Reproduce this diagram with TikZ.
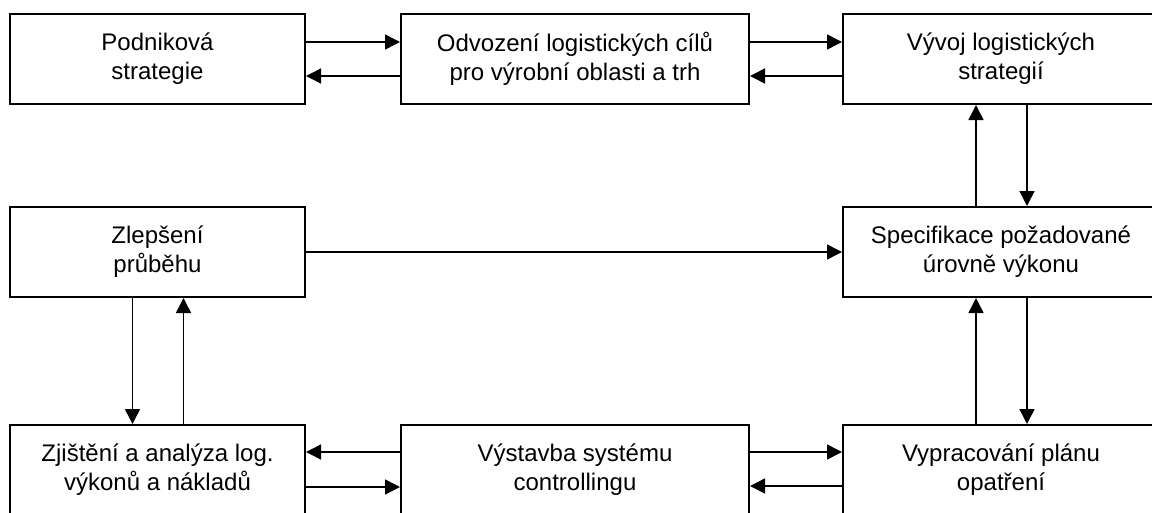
\documentclass[tikz,border=0pt]{standalone}
\usepackage{fontspec}
\setmainfont{Liberation Sans}
\usetikzlibrary{arrows.meta, positioning, calc}

\tikzset{
  blok/.style={draw, line width=2pt, minimum height=90pt, align=center,
               inner sep=0pt, font=\fontsize{24}{29}\selectfont},
  sipka/.style={line width=1.5pt, -{Triangle[length=15pt, width=15pt]}},
}

\begin{document}
\begin{tikzpicture}[x=1pt, y=-1pt]
  \useasboundingbox (0,0) rectangle (1152,512);
  \clip (0,0) rectangle (1152,512);

  % horni rada
  \node[blok, minimum width=295pt] (podnik) at (157.5,59) {Podniková\\strategie};
  \node[blok, minimum width=348pt] (cile) at (575,59) {Odvození logistických cílů\\pro výrobní oblasti a trh};
  \node[blok, minimum width=316pt] (vyvoj) at (1001,59) {Vývoj logistických\\strategií};

  % stredni rada
  \node[blok, minimum width=295pt] (zlepseni) at (157.5,252) {Zlepšení\\průběhu};
  \node[blok, minimum width=316pt] (specif) at (1001,252) {Specifikace požadované\\úrovně výkonu};

  % dolni rada
  \node[blok, minimum width=295pt] (zjisteni) at (157.5,470) {Zjištění a analýza log.\\výkonů a nákladů};
  \node[blok, minimum width=348pt] (vystavba) at (575,470) {Výstavba systému\\controllingu};
  \node[blok, minimum width=316pt] (plan) at (1001,470) {Vypracování plánu\\opatření};

  % vazby nahore
  \draw[sipka] ([yshift=17pt]podnik.east) -- ([yshift=17pt]cile.west);
  \draw[sipka] ([yshift=-17pt]cile.west) -- ([yshift=-17pt]podnik.east);
  \draw[sipka] ([yshift=17pt]cile.east) -- ([yshift=17pt]vyvoj.west);
  \draw[sipka] ([yshift=-17pt]vyvoj.west) -- ([yshift=-17pt]cile.east);

  % vazby vpravo
  \draw[sipka] ([xshift=-25pt]specif.north) -- ([xshift=-25pt]vyvoj.south);
  \draw[sipka] ([xshift=26pt]vyvoj.south) -- ([xshift=26pt]specif.north);
  \draw[sipka] ([xshift=-25pt]plan.north) -- ([xshift=-25pt]specif.south);
  \draw[sipka] ([xshift=26pt]specif.south) -- ([xshift=26pt]plan.north);

  % vazby vlevo
  \draw[sipka] (zlepseni.east) -- (specif.west);
  \draw[sipka] ([xshift=-25pt]zlepseni.south) -- ([xshift=-25pt]zjisteni.north);
  \draw[sipka] ([xshift=26pt]zjisteni.north) -- ([xshift=26pt]zlepseni.south);

  % vazby dole
  \draw[sipka] ([yshift=18pt]vystavba.west) -- ([yshift=18pt]zjisteni.east);
  \draw[sipka] ([yshift=-17pt]zjisteni.east) -- ([yshift=-17pt]vystavba.west);
  \draw[sipka] ([yshift=18pt]vystavba.east) -- ([yshift=18pt]plan.west);
  \draw[sipka] ([yshift=-16pt]plan.west) -- ([yshift=-16pt]vystavba.east);
\end{tikzpicture}
\end{document}
